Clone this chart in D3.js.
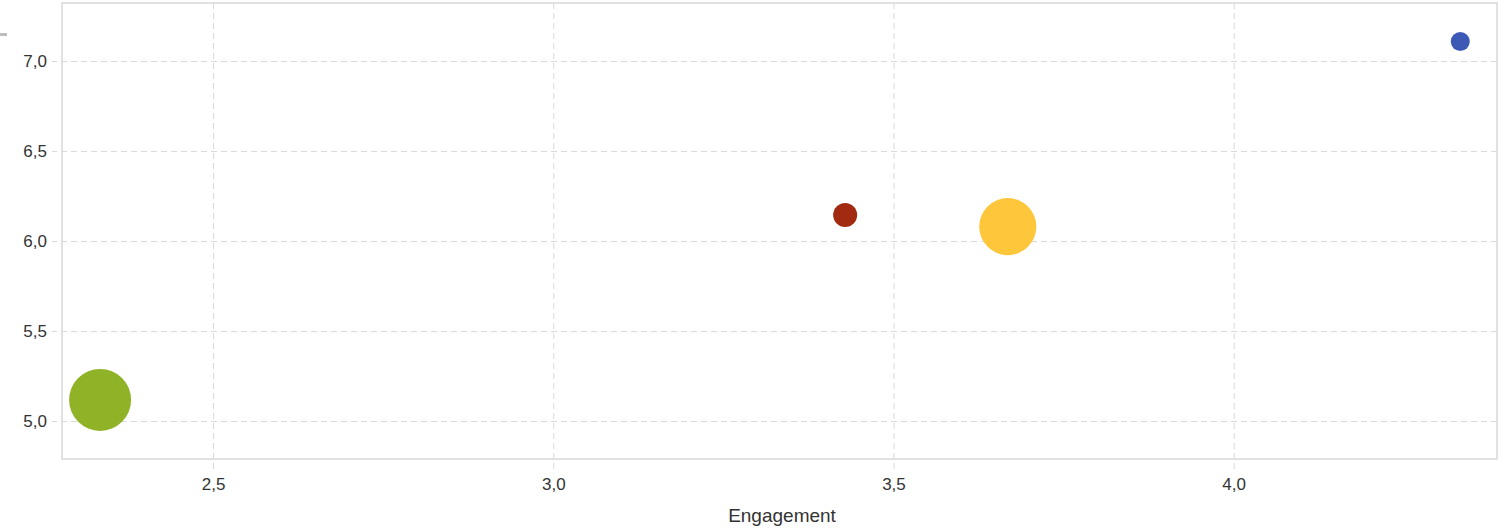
<!DOCTYPE html>
<html>
<head>
<meta charset="utf-8">
<script src="https://cdn.jsdelivr.net/npm/d3@7"></script>
<style>
  html, body { margin: 0; padding: 0; background: #fff; }
  svg { display: block; font-family: Arial, "Liberation Sans", sans-serif; }
</style>
</head>
<body>
<svg id="chart" width="1506" height="531"></svg>
<script>
// Data
const names = ["A", "B", "C", "D"];
const engagement = [2.334, 3.429, 3.668, 4.333];
const yValues = [5.117, 6.144, 6.080, 7.108];
const sizes = [100, 15, 85, 9.4];
const colors = ["#8fb227", "#a22a10", "#fec73b", "#3b59b5"];
const xTicks = [2.5, 3.0, 3.5, 4.0];
const yTicks = [5.0, 5.5, 6.0, 6.5, 7.0];
const xTitle = "Engagement";

const svg = d3.select("#chart");
const margin = { left: 62, top: 3, right: 9, bottom: 72 };
const W = 1506, H = 531;
const plotW = W - margin.left - margin.right;
const plotH = H - margin.top - margin.bottom;

const x = d3.scaleLinear().domain([2.278, 4.387]).range([margin.left, margin.left + plotW]);
const y = d3.scaleLinear().domain([4.789, 7.322]).range([margin.top + plotH, margin.top]);
const r = d3.scaleSqrt().domain([0, 100]).range([0, 31]);
const fmt = d => d.toFixed(1).replace(".", ",");

// small decoration at far left
svg.append("rect").attr("x", 0).attr("y", 33).attr("width", 7).attr("height", 3).attr("fill", "#bdbdbd");

// grid + axes
const xAxis = d3.axisBottom(x).tickValues(xTicks).tickFormat(fmt)
  .tickSize(plotH + 10).tickPadding(9);
const gx = svg.append("g").attr("transform", `translate(0,${margin.top})`).call(xAxis);
gx.select(".domain").remove();
gx.selectAll(".tick line").attr("stroke", "#d9d9d9").attr("stroke-dasharray", "6,4");
gx.selectAll(".tick text").attr("fill", "#333").style("font-size", "17px");

const yAxis = d3.axisLeft(y).tickValues(yTicks).tickFormat(fmt)
  .tickSize(plotW + 10).tickPadding(5);
const gy = svg.append("g").attr("transform", `translate(${margin.left + plotW},0)`).call(yAxis);
gy.select(".domain").remove();
gy.selectAll(".tick line").attr("stroke", "#d9d9d9").attr("stroke-dasharray", "6,4");
gy.selectAll(".tick text").attr("fill", "#333").style("font-size", "17px");

// plot border
svg.append("rect")
  .attr("x", margin.left).attr("y", margin.top)
  .attr("width", plotW).attr("height", plotH)
  .attr("fill", "none").attr("stroke", "#d8d8d8").attr("stroke-width", 1.5);

// bubbles
const data = names.map((n, i) => ({ n, x: engagement[i], y: yValues[i], s: sizes[i], c: colors[i] }));
svg.append("g").selectAll("circle").data(data).join("circle")
  .attr("cx", d => x(d.x)).attr("cy", d => y(d.y)).attr("r", d => r(d.s))
  .attr("fill", d => d.c);

// axis title
svg.append("text").attr("x", 782).attr("y", 522).attr("text-anchor", "middle")
  .attr("fill", "#333").style("font-size", "19px").text(xTitle);
</script>
</body>
</html>
